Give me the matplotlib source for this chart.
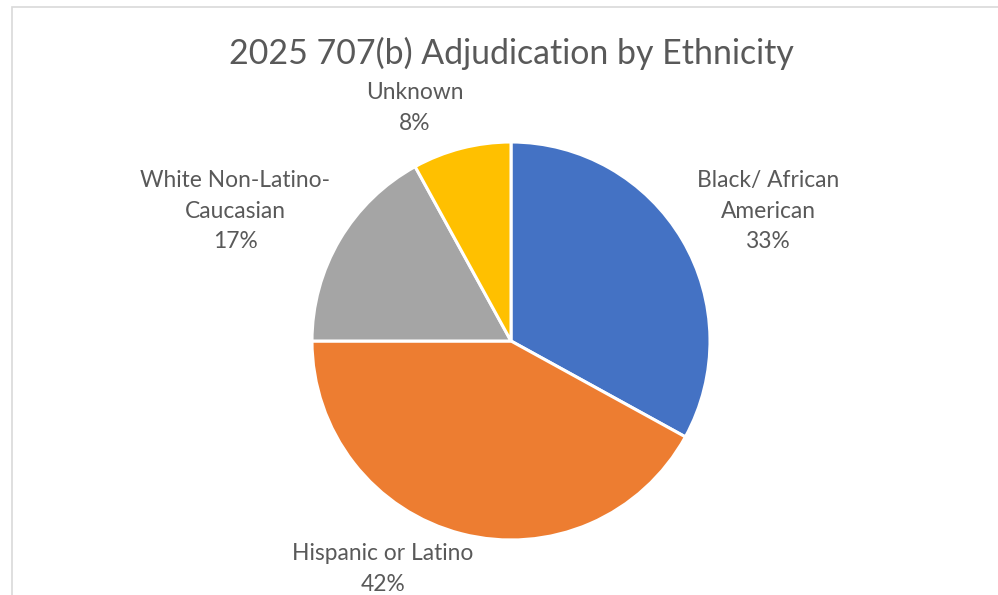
import matplotlib.pyplot as plt
from matplotlib.patches import Rectangle

categories = ['Black/ African\nAmerican', 'Hispanic or Latino', 'White Non-Latino-\nCaucasian', 'Unknown']
shares = [33, 42, 17, 8]
colors = ['#4472C4', '#ED7D31', '#A5A5A5', '#FFC000']

W, H = 998, 595
fig = plt.figure(figsize=(W / 100, H / 100), dpi=100)
plt.rcParams['font.family'] = ['Lato', 'DejaVu Sans']
text_color = '#595959'

# chart frame (cut off at right and bottom)
fig.patches.append(Rectangle((11.5 / W, -0.1), 1.2, 1 - 7.5 / H + 0.1, transform=fig.transFigure,
                             fill=False, edgecolor='#D9D9D9', linewidth=1.2))

cx, cy, r = 511, 341, 199
ax = fig.add_axes([(cx - r) / W, (H - cy - r) / H, 2 * r / W, 2 * r / H])
ax.pie(shares, colors=colors, startangle=90, counterclock=False,
       wedgeprops=dict(edgecolor='white', linewidth=2.2))
ax.set_xlim(-1, 1)
ax.set_ylim(-1, 1)
ax.set_aspect('equal')
ax.axis('off')

fig.text(511 / W, 1 - 53 / H, '2025 707(b) Adjudication by Ethnicity', ha='center', va='center',
         fontsize=24.4, color=text_color)

label_pos = [(768, 211), (383, 569), (235, 211), (415, 108)]
for cat, val, (px, py) in zip(categories, shares, label_pos):
    fig.text(px / W, 1 - py / H, '%s\n%d%%' % (cat, val), ha='center', va='center',
             fontsize=16.4, color=text_color, linespacing=1.56)

fig.savefig('out.png', dpi=100)
